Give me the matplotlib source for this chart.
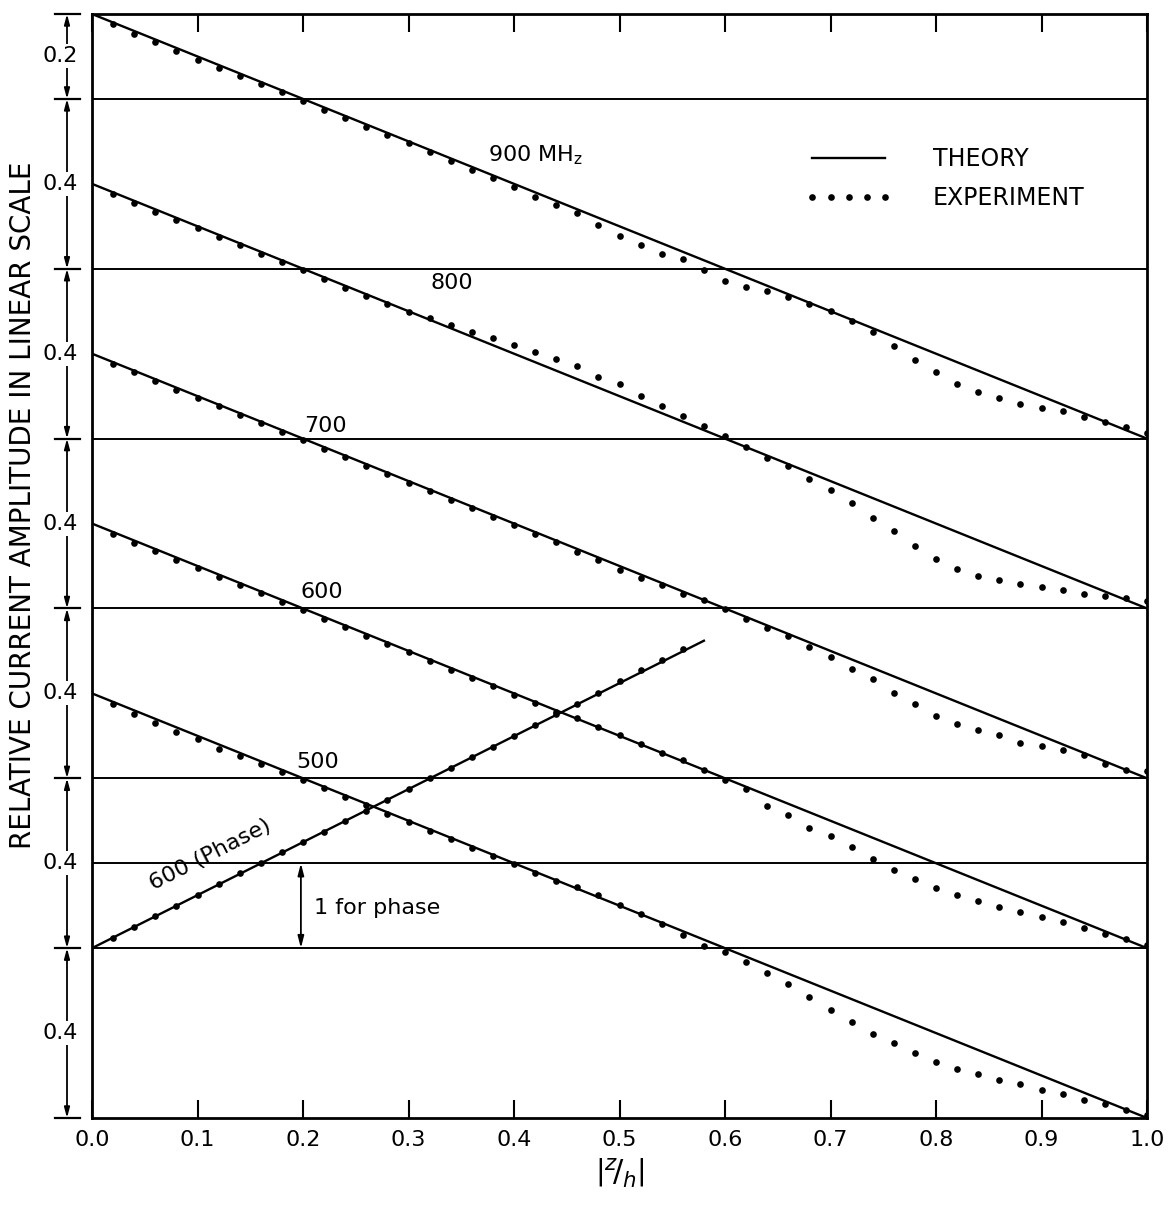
import numpy as np
import matplotlib
matplotlib.use("Agg")
import matplotlib.pyplot as plt
from matplotlib.lines import Line2D
from matplotlib.transforms import blended_transform_factory

# ---- values ----
z_exp = [0.02, 0.04, 0.06, 0.08, 0.10, 0.12, 0.14, 0.16, 0.18, 0.20,
         0.22, 0.24, 0.26, 0.28, 0.30, 0.32, 0.34, 0.36, 0.38, 0.40,
         0.42, 0.44, 0.46, 0.48, 0.50, 0.52, 0.54, 0.56, 0.58, 0.60,
         0.62, 0.64, 0.66, 0.68, 0.70, 0.72, 0.74, 0.76, 0.78, 0.80,
         0.82, 0.84, 0.86, 0.88, 0.90, 0.92, 0.94, 0.96, 0.98, 1.00]

theory_z = [0.0, 1.0]
theory_amp = [1.0, 0.0]

amp_900 = [0.976, 0.954, 0.934, 0.912, 0.892, 0.874, 0.854, 0.835, 0.816, 0.796,
           0.774, 0.754, 0.735, 0.716, 0.696, 0.675, 0.654, 0.632, 0.614, 0.592,
           0.570, 0.550, 0.531, 0.502, 0.477, 0.456, 0.435, 0.423, 0.398, 0.372,
           0.356, 0.347, 0.334, 0.317, 0.300, 0.276, 0.251, 0.217, 0.186, 0.156,
           0.128, 0.109, 0.096, 0.082, 0.071, 0.066, 0.052, 0.040, 0.028, 0.014]

amp_800 = [0.975, 0.955, 0.934, 0.914, 0.895, 0.874, 0.855, 0.835, 0.815, 0.796,
           0.775, 0.755, 0.736, 0.716, 0.698, 0.683, 0.668, 0.652, 0.636, 0.620,
           0.604, 0.588, 0.570, 0.546, 0.529, 0.500, 0.477, 0.453, 0.429, 0.405,
           0.381, 0.355, 0.335, 0.306, 0.279, 0.248, 0.214, 0.183, 0.148, 0.117,
           0.093, 0.077, 0.066, 0.058, 0.051, 0.043, 0.034, 0.029, 0.024, 0.017]

amp_700 = [0.976, 0.956, 0.936, 0.915, 0.896, 0.876, 0.855, 0.836, 0.816, 0.796,
           0.776, 0.757, 0.736, 0.716, 0.696, 0.677, 0.656, 0.636, 0.616, 0.596,
           0.576, 0.556, 0.534, 0.514, 0.491, 0.472, 0.455, 0.433, 0.420, 0.398,
           0.375, 0.353, 0.336, 0.310, 0.285, 0.257, 0.234, 0.202, 0.175, 0.147,
           0.129, 0.113, 0.103, 0.083, 0.077, 0.066, 0.054, 0.034, 0.020, 0.018]

amp_600 = [0.975, 0.955, 0.935, 0.915, 0.895, 0.875, 0.856, 0.836, 0.815, 0.797,
           0.776, 0.756, 0.736, 0.717, 0.697, 0.676, 0.656, 0.637, 0.617, 0.597,
           0.577, 0.557, 0.543, 0.521, 0.501, 0.481, 0.460, 0.442, 0.419, 0.396,
           0.375, 0.335, 0.313, 0.284, 0.265, 0.238, 0.210, 0.185, 0.162, 0.142,
           0.126, 0.110, 0.098, 0.085, 0.074, 0.062, 0.048, 0.033, 0.021, 0.008]

amp_500 = [0.975, 0.952, 0.930, 0.910, 0.892, 0.870, 0.852, 0.834, 0.814, 0.796,
           0.776, 0.756, 0.737, 0.717, 0.697, 0.677, 0.657, 0.637, 0.618, 0.598,
           0.578, 0.558, 0.543, 0.525, 0.502, 0.480, 0.457, 0.432, 0.404, 0.390,
           0.368, 0.342, 0.315, 0.285, 0.255, 0.225, 0.198, 0.176, 0.154, 0.131,
           0.115, 0.103, 0.090, 0.079, 0.066, 0.057, 0.043, 0.033, 0.019, 0.008]

phase_z = [0.02, 0.04, 0.06, 0.08, 0.10, 0.12, 0.14, 0.16, 0.18, 0.20,
           0.22, 0.24, 0.26, 0.28, 0.30, 0.32, 0.34, 0.36, 0.38, 0.40,
           0.42, 0.44, 0.46, 0.48, 0.50, 0.52, 0.54, 0.56]
phase_600 = [0.12, 0.25, 0.38, 0.50, 0.63, 0.75, 0.88, 1.00, 1.13, 1.25,
             1.37, 1.50, 1.62, 1.75, 1.87, 2.00, 2.12, 2.25, 2.37, 2.50,
             2.63, 2.76, 2.88, 3.01, 3.14, 3.27, 3.39, 3.52]
phase_theory_z = [0.0, 0.58]
phase_theory = [0.0, 3.62]

curve_labels = ["500", "600", "700", "800", "900 MH$_\\mathregular{z}$"]
x_ticks = [0.0, 0.1, 0.2, 0.3, 0.4, 0.5, 0.6, 0.7, 0.8, 0.9, 1.0]
scale_labels = ["0.4", "0.4", "0.4", "0.4", "0.4", "0.4", "0.2"]

# ---- layout: each curve sits on its own baseline (linear scale) ----
bases = [0.0, 0.4, 0.8, 1.2, 1.6]
phase_base = 0.4
phase_unit = 0.2
grid_lines = [0.4, 0.6, 0.8, 1.2, 1.6, 2.0, 2.4]
scale_edges = [0.0, 0.4, 0.8, 1.2, 1.6, 2.0, 2.4, 2.6]

W, H = 1174, 1210
fig = plt.figure(figsize=(W / 100, H / 100), dpi=100)
ax = fig.add_axes([92 / W, 1 - 1118 / H, 1055 / W, 1104 / H])
ax.set_xlim(0, 1)
ax.set_ylim(0, 2.6)

for g in grid_lines:
    ax.axhline(g, color="black", lw=1.4, zorder=1)

all_amps = [amp_500, amp_600, amp_700, amp_800, amp_900]
for base, amp in zip(bases, all_amps):
    ax.plot(theory_z, base + np.array(theory_amp), color="black", lw=1.7)
    ax.plot(z_exp, base + np.array(amp), "o", color="black", ms=4.8, mew=0)

# phase curve
ax.plot(phase_theory_z, phase_base + phase_unit * np.array(phase_theory),
        color="black", lw=1.7)
ax.plot(phase_z, phase_base + phase_unit * np.array(phase_600), "o",
        color="black", ms=4.8, mew=0)

# curve labels
fs = 16
label_pos = [(0.214, 0.838), (0.218, 1.239), (0.221, 1.630), (0.341, 1.967), (0.42, 2.268)]
for txt, (lx, ly) in zip(curve_labels, label_pos):
    ax.text(lx, ly, txt, ha="center", va="center", fontsize=fs)
ax.text(0.112, 0.62, "600 (Phase)", rotation=27, ha="center", va="center", fontsize=fs)

# "1 for phase" bracket
ax.annotate("", xy=(0.198, 0.6), xytext=(0.198, 0.4),
            arrowprops=dict(arrowstyle="<|-|>,head_length=0.7,head_width=0.18",
                            color="black", lw=1.3, shrinkA=0, shrinkB=0))
ax.text(0.21, 0.495, "1 for phase", ha="left", va="center", fontsize=fs)

# legend
handles = [Line2D([], [], color="black", lw=1.7),
           Line2D([], [], ls="none", marker="o", color="black", ms=4.8, mew=0)]
ax.legend(handles, ["THEORY", "EXPERIMENT"], loc="center left",
          bbox_to_anchor=(0.676, 0.851), frameon=False, fontsize=17,
          handlelength=3.7, handletextpad=1.7, labelspacing=0.65,
          numpoints=5, borderpad=0, borderaxespad=0)

# left-hand scale bars
trans = blended_transform_factory(ax.transAxes, ax.transData)
xa = -0.0237
for e in scale_edges:
    ax.plot([-0.035, -0.0114], [e, e], color="black", lw=1.6,
            transform=trans, clip_on=False)
for (y0, y1), lab in zip(zip(scale_edges[:-1], scale_edges[1:]), scale_labels):
    ax.annotate("", xy=(xa, y1), xytext=(xa, y0), xycoords=trans, textcoords=trans,
                annotation_clip=False,
                arrowprops=dict(arrowstyle="<|-|>,head_length=0.6,head_width=0.16",
                                color="black", lw=1.3, shrinkA=0, shrinkB=0))
    ax.text(xa - 0.006, (y0 + y1) / 2, lab, transform=trans, ha="center", va="center",
            fontsize=fs, bbox=dict(facecolor="white", edgecolor="none", pad=1.5),
            zorder=5, clip_on=False)

fig.text(23 / W, 1 - 505 / H, "RELATIVE CURRENT AMPLITUDE IN LINEAR SCALE",
         rotation=90, ha="center", va="center", fontsize=20)

# axes styling
ax.set_xticks(x_ticks)
ax.set_xticklabels(["%.1f" % t for t in x_ticks])
ax.set_yticks([])
ax.tick_params(axis="x", direction="in", length=13, width=1.5, top=True,
               labelsize=fs, pad=9)
for s in ax.spines.values():
    s.set_linewidth(2)
ax.set_xlabel(r"$\left|{}^{z}\!/_{h}\right|$", fontsize=22, labelpad=4)

fig.savefig("out.png", dpi=100)
